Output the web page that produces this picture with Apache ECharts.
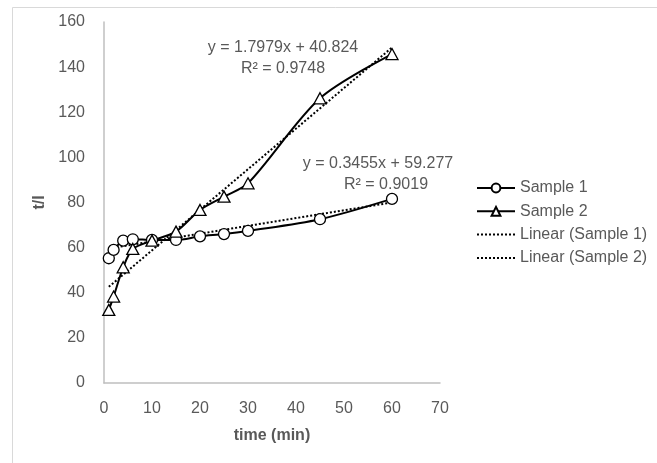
<!DOCTYPE html>
<html><head><meta charset="utf-8">
<script src="https://cdn.jsdelivr.net/npm/echarts@6/dist/echarts.min.js"></script>
<style>html,body{margin:0;padding:0;background:#fff}#c{width:657px;height:463px}</style>
</head><body><div id="c"></div>
<script>
const timeX = [1, 2, 4, 6, 10, 15, 20, 25, 30, 45, 60];
const sample1 = [55.3, 59.0, 63.1, 63.7, 63.4, 63.4, 65.0, 66.0, 67.4, 72.6, 81.6];
const sample2 = [32.4, 38.3, 51.3, 59.4, 63.1, 67.1, 76.7, 82.6, 88.5, 126.2, 145.8];
const trend1X = [1, 60];
const trend1Y = [59.62, 80.01];
const trend2X = [1, 60];
const trend2Y = [42.62, 148.70];
const eq1 = ['y = 0.3455x + 59.277', 'R² = 0.9019'];
const eq2 = ['y = 1.7979x + 40.824', 'R² = 0.9748'];
const xTicks = [0, 10, 20, 30, 40, 50, 60, 70];
const yTicks = [0, 20, 40, 60, 80, 100, 120, 140, 160];

const font = 'Liberation Sans, Arial, sans-serif';
const grey = '#595959';
const zip = (a, b) => a.map((v, i) => [v, b[i]]);

const chart = echarts.init(document.getElementById('c'));
chart.setOption({
  animation: false,
  backgroundColor: '#fff',
  textStyle: { fontFamily: font },
  grid: { left: 104, right: 217, top: 22, bottom: 80 },
  xAxis: {
    type: 'value', min: xTicks[0], max: xTicks[xTicks.length - 1], interval: 10,
    name: 'time (min)', nameLocation: 'middle', nameGap: 45,
    nameTextStyle: { color: grey, fontWeight: 'bold', fontSize: 16, fontFamily: font },
    axisLine: { lineStyle: { color: '#bfbfbf', width: 1.5 } },
    axisTick: { show: false }, splitLine: { show: false },
    axisLabel: { color: grey, fontSize: 16, margin: 18, fontFamily: font }
  },
  yAxis: {
    type: 'value', min: yTicks[0], max: yTicks[yTicks.length - 1], interval: 20,
    name: 't/I', nameLocation: 'middle', nameGap: 52, nameRotate: 90,
    nameTextStyle: { color: grey, fontWeight: 'bold', fontSize: 16, fontFamily: font },
    axisLine: { show: true, lineStyle: { color: '#bfbfbf', width: 1.5 } },
    axisTick: { show: false }, splitLine: { show: false },
    axisLabel: { color: grey, fontSize: 16, margin: 19, fontFamily: font }
  },
  legend: {
    orient: 'vertical', left: 476, top: 180, padding: 0, itemGap: 7.3, itemWidth: 38, itemHeight: 11,
    textStyle: { color: grey, fontSize: 16, fontFamily: font },
    data: [
      { name: 'Sample 1' },
      { name: 'Sample 2' },
      { name: 'Linear (Sample 1)', itemStyle: { opacity: 0 } },
      { name: 'Linear (Sample 2)', itemStyle: { opacity: 0 } }
    ]
  },
  series: [
    { name: 'Sample 1', type: 'line', smooth: 0.3, data: zip(timeX, sample1),
      symbol: 'circle', symbolSize: 11, color: '#000',
      lineStyle: { color: '#000', width: 2 },
      itemStyle: { color: '#fff', borderColor: '#000', borderWidth: 1.3 }, z: 3 },
    { name: 'Sample 2', type: 'line', smooth: 0.3, data: zip(timeX, sample2),
      symbol: 'triangle', symbolSize: [12, 11], color: '#000',
      lineStyle: { color: '#000', width: 2 },
      itemStyle: { color: '#fff', borderColor: '#000', borderWidth: 1.3 }, z: 3 },
    { name: 'Linear (Sample 1)', type: 'line', data: zip(trend1X, trend1Y),
      symbol: 'none', color: '#000', lineStyle: { color: '#000', width: 2, type: [2, 2] }, z: 2 },
    { name: 'Linear (Sample 2)', type: 'line', data: zip(trend2X, trend2Y),
      symbol: 'none', color: '#000', lineStyle: { color: '#000', width: 2, type: [2, 2] }, z: 2 }
  ],
  graphic: [
    { type: 'rect', left: 10, top: 5, shape: { width: 700, height: 500 }, silent: true,
      style: { fill: 'none', stroke: '#d9d9d9', lineWidth: 1 }, z: -1 },
    { type: 'text', x: 283, y: 48, style: { text: eq2[0], fill: grey, font: '16px ' + font, textAlign: 'center', textVerticalAlign: 'middle' } },
    { type: 'text', x: 283, y: 69, style: { text: eq2[1], fill: grey, font: '16px ' + font, textAlign: 'center', textVerticalAlign: 'middle' } },
    { type: 'text', x: 378, y: 164, style: { text: eq1[0], fill: grey, font: '16px ' + font, textAlign: 'center', textVerticalAlign: 'middle' } },
    { type: 'text', x: 386, y: 185, style: { text: eq1[1], fill: grey, font: '16px ' + font, textAlign: 'center', textVerticalAlign: 'middle' } }
  ]
});
</script></body></html>
